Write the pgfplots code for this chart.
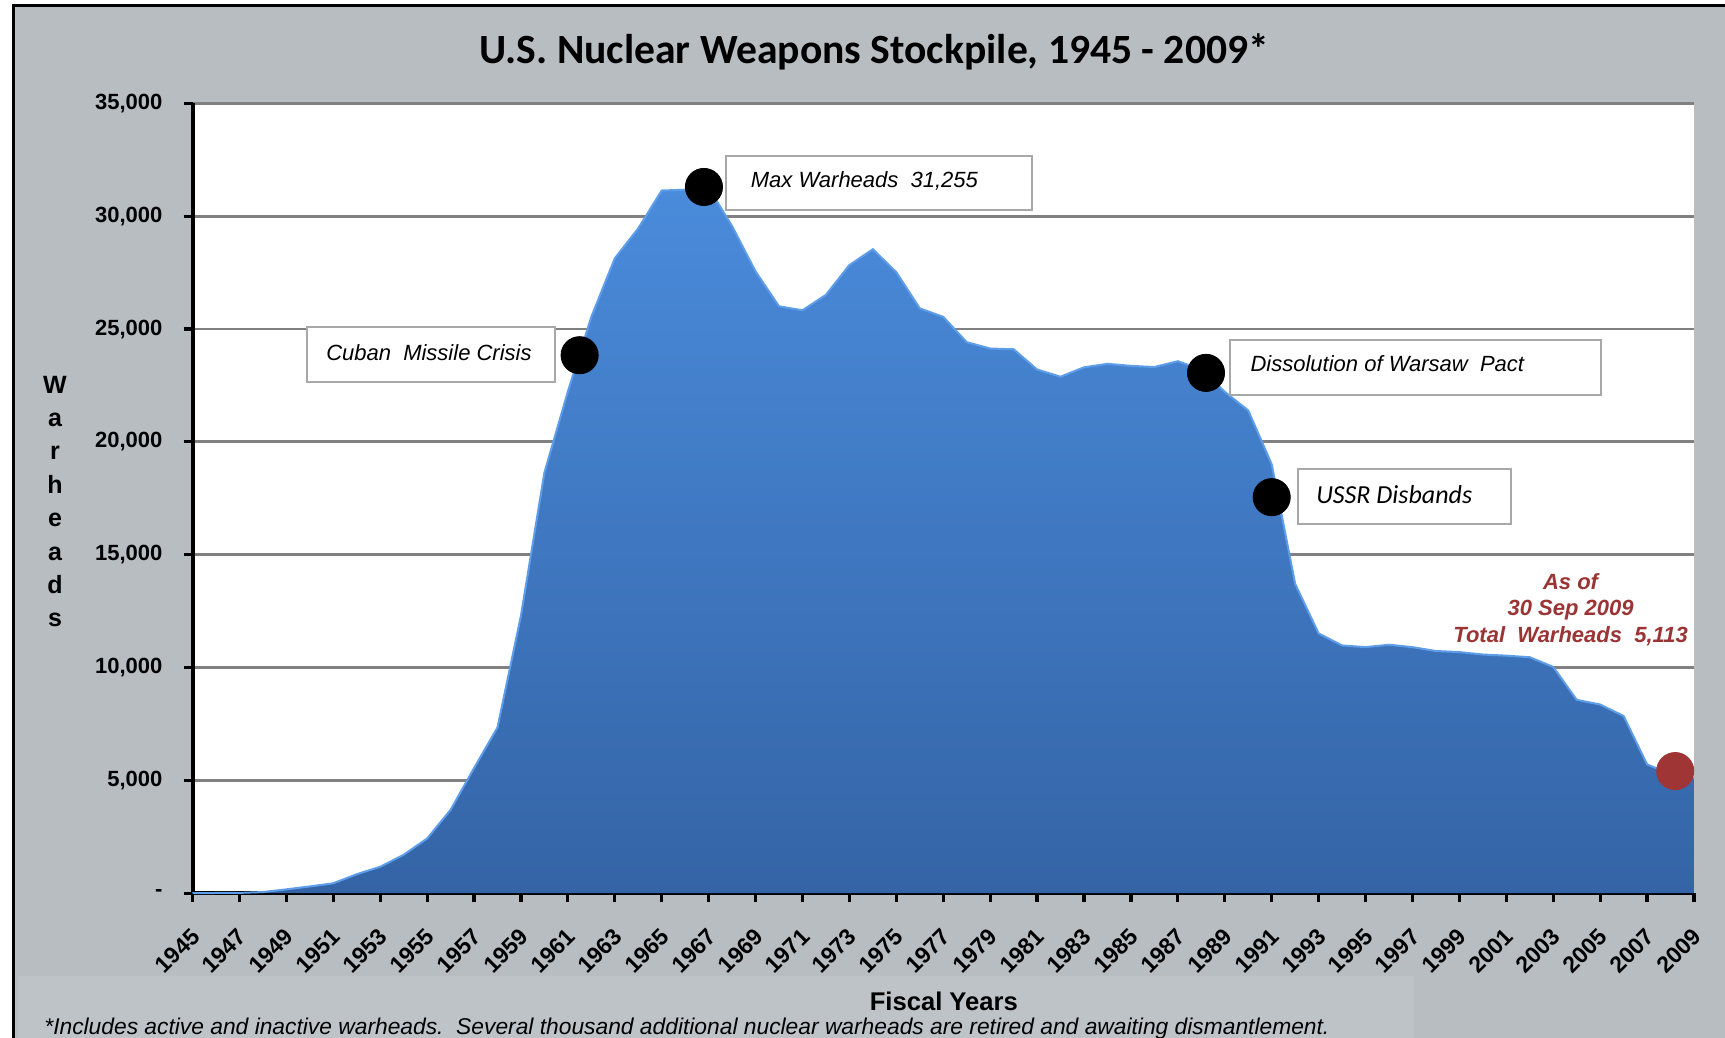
\documentclass[border=0pt]{standalone}
\usepackage{pgfplots}
\pgfplotsset{compat=1.18}
\usepackage{pgfplotstable}
\usepackage{fontspec}
\setmainfont{Liberation Sans}
\newfontfamily\titlefont{Carlito}
\definecolor{bgc}{HTML}{B8BDC2}
\definecolor{footc}{HTML}{BEC3C8}
\definecolor{gridc}{HTML}{808080}
\definecolor{areatop}{HTML}{4A8BDB}
\definecolor{areabot}{HTML}{3464A6}
\definecolor{areaedge}{HTML}{5E9DEA}
\definecolor{boxc}{HTML}{A8A8A8}
\definecolor{redc}{HTML}{9B3434}
\definecolor{reddot}{HTML}{A03535}
\pgfplotstableread{
year val
1945 2
1946 9
1947 13
1948 50
1949 170
1950 299
1951 438
1952 841
1953 1169
1954 1703
1955 2422
1956 3692
1957 5543
1958 7345
1959 12298
1960 18638
1961 22229
1962 25540
1963 28133
1964 29463
1965 31139
1966 31175
1967 31255
1968 29561
1969 27552
1970 26008
1971 25830
1972 26516
1973 27835
1974 28537
1975 27519
1976 25914
1977 25542
1978 24418
1979 24138
1980 24104
1981 23208
1982 22886
1983 23305
1984 23459
1985 23368
1986 23317
1987 23575
1988 23205
1989 22217
1990 21392
1991 19008
1992 13708
1993 11511
1994 10979
1995 10904
1996 11011
1997 10903
1998 10732
1999 10685
2000 10577
2001 10526
2002 10457
2003 10027
2004 8570
2005 8360
2006 7853
2007 5709
2008 5273
2009 5113
}\stock
\pgfplotsset{
  layers/mylayers/.define layer set={axis background,axis grid,main,axis ticks,axis lines,axis tick labels,axis descriptions,axis foreground}{},
}
\begin{document}
\begin{tikzpicture}
\fill[white] (0pt,0pt) rectangle (862.5pt,519pt);
\fill[bgc] (6.6pt,0pt) rectangle (862.5pt,516.3pt);
\fill[footc] (9pt,0pt) rectangle (707pt,31pt);
\draw[black, line width=1.6pt] (6.6pt,0pt) -- (6.6pt,516.3pt) -- (862.5pt,516.3pt);
\begin{axis}[
  set layers=mylayers,
  at={(96.25pt,72.4pt)}, anchor=south west,
  scale only axis, width=750.75pt, height=394.9pt,
  xmin=1945, xmax=2009, ymin=0, ymax=35000,
  scaled y ticks=false, scaled x ticks=false,
  axis lines*=left,
  axis line style={black, line width=2pt, -},
  axis background/.style={fill=white},
  ymajorgrids, grid style={gridc, line width=1.4pt},
  ytick={0,5000,...,35000},
  yticklabels={-,{5,000},{10,000},{15,000},{20,000},{25,000},{30,000},{35,000}},
  xtick={1945,1947,...,2009},
  xticklabels={1945,1947,1949,1951,1953,1955,1957,1959,1961,1963,1965,1967,1969,1971,1973,1975,1977,1979,1981,1983,1985,1987,1989,1991,1993,1995,1997,1999,2001,2003,2005,2007,2009},
  minor x tick num=1,
  tick align=outside,
  major tick length=4.5pt, minor tick length=4.5pt,
  every tick/.style={black, line width=1.6pt},
  yticklabel style={font=\bfseries\fontsize{11}{13}\selectfont, xshift=-7pt},
  xticklabel style={font=\bfseries\fontsize{11.5}{13}\selectfont, xshift=2pt, yshift=-15pt, rotate=45, anchor=east, inner sep=0.5pt},
  clip=false,
]
\addplot[draw=none, top color=areatop, bottom color=areabot] table[x=year,y=val] {\stock} \closedcycle;
\addplot[areaedge, line width=1pt] table[x=year,y=val] {\stock};
% annotation boxes
\draw[boxc, line width=1pt, fill=white] (axis cs:1949.88,22668) rectangle (axis cs:1960.47,25105);
\node[anchor=west, font=\itshape\fontsize{11}{13}\selectfont] at (axis cs:1950.4,23950) {Cuban\ \ Missile Crisis};
\draw[boxc, line width=1pt, fill=white] (axis cs:1967.74,30272) rectangle (axis cs:1980.77,32661);
\node[anchor=west, font=\itshape\fontsize{11}{13}\selectfont] at (axis cs:1968.5,31550) {Max Warheads\ \ 31,255};
\draw[boxc, line width=1pt, fill=white] (axis cs:1989.21,22083) rectangle (axis cs:2005.05,24520);
\node[anchor=west, font=\itshape\fontsize{11}{13}\selectfont] at (axis cs:1989.8,23450) {Dissolution of Warsaw\ \ Pact};
\draw[boxc, line width=1pt, fill=white] (axis cs:1992.12,16379) rectangle (axis cs:2001.21,18816);
\node[anchor=west, font=\titlefont\itshape\fontsize{13}{15}\selectfont] at (axis cs:1992.6,17650) {USSR Disbands};
\node[align=center, text=redc, font=\bfseries\itshape\fontsize{11}{13.2}\selectfont] at (axis cs:2003.74,12576) {As of\\30 Sep 2009\\Total\ \ Warheads\ \ 5,113};
\addplot[only marks, mark=*, mark size=9.3pt, black, mark options={draw=black, fill=black}] coordinates {(1961.5,23840) (1966.8,31296) (1988.2,23057) (1991.0,17549)};
\addplot[only marks, mark=*, mark size=9.3pt, mark options={draw=reddot, fill=reddot}] coordinates {(2008.2,5411)};
\end{axis}
\node[font=\titlefont\bfseries\fontsize{20.8}{24}\selectfont] at (437pt,493pt) {U.S. Nuclear Weapons Stockpile, 1945 - 2009*};
\node[font=\bfseries\fontsize{12.8}{14}\selectfont] at (471.9pt,18.5pt) {Fiscal Years};
\node[align=center, font=\bfseries\fontsize{12.5}{16.7}\selectfont] at (27.5pt,268.2pt) {W\\a\\r\\h\\e\\a\\d\\s};
\node[anchor=base west, inner sep=0pt, font=\itshape\fontsize{11.4}{13}\selectfont] at (22pt,1.5pt) {*Includes active and inactive warheads.\ \ Several thousand additional nuclear warheads are retired and awaiting dismantlement.};
\pgfresetboundingbox
\useasboundingbox (0pt,0pt) rectangle (862.5pt,519pt);
\end{tikzpicture}
\end{document}
